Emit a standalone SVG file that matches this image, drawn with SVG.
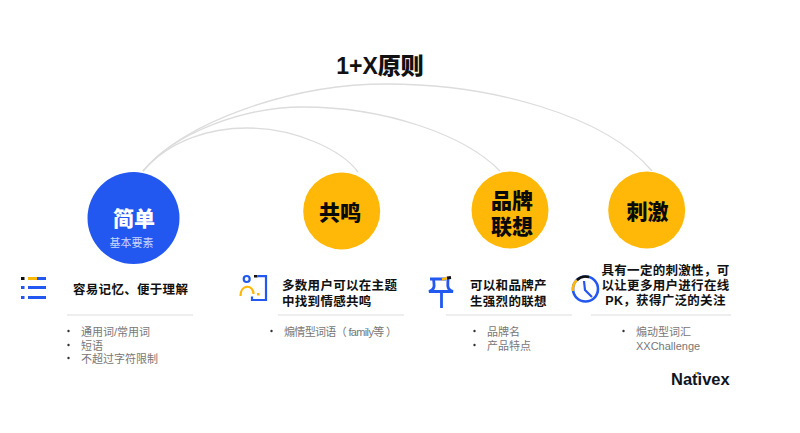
<svg xmlns="http://www.w3.org/2000/svg" width="800" height="433" viewBox="0 0 800 433">
<style>
text{font-family:"Liberation Sans","Noto Sans CJK SC",sans-serif}
.arc{fill:none;stroke:#dcdcdc;stroke-width:1.3}
.rule{stroke:#dedede;stroke-width:1.2}
.head{font-size:21px;font-weight:900;fill:#0a0a0a;text-anchor:middle}
.sub{font-size:12.5px;font-weight:700;fill:#111;letter-spacing:.3px}
.li{font-size:11px;fill:#777}
.dot{fill:#333}
.b{fill:none;stroke:#2257f0;stroke-width:2.2}
.y{fill:none;stroke:#ffb808;stroke-width:2.2}
</style>
<rect width="800" height="433" fill="#fff"/>
<g id="connectors">
<path class="arc" d="M143 171C170 140 210 128 247 128C295 128 342 150 358 172"/>
<path class="arc" d="M143 171C175 132 245 107 303 107C385 107 465 135 500 171"/>
<path class="arc" d="M143 171C185 122 290 84 387 84C490 84 605 115 652 171"/>
</g>
<text x="380" y="74" font-size="23" font-weight="900" fill="#111" text-anchor="middle">1+X原则</text>
<g id="node-jiandan">
<circle cx="133.500" cy="218" r="46" fill="#2257f0"/>
<text class="head" x="134" y="226" style="fill:#fff">简单</text>
<text x="131.500" y="247" font-size="11" fill="#c9d6ff" text-anchor="middle">基本要素</text>
<g id="icon-list">
<rect x="21" y="277" width="3.500" height="3" fill="#111"/><rect x="28" y="277" width="9" height="3" fill="#ffb808"/><rect x="37" y="277" width="9" height="3" fill="#2257f0"/>
<rect x="21" y="286" width="3.500" height="3" fill="#2257f0"/><rect x="28" y="286" width="18" height="3" fill="#2257f0"/>
<rect x="21" y="296" width="3.500" height="3" fill="#2257f0"/><rect x="28" y="296" width="18" height="3" fill="#2257f0"/>
</g>
<text class="sub" x="73" y="294">容易记忆、便于理解</text>
<line class="rule" x1="67" y1="315" x2="193" y2="315"/>
<circle class="dot" cx="68.500" cy="331" r="1.200"/><circle class="dot" cx="68.500" cy="345" r="1.200"/><circle class="dot" cx="68.500" cy="358" r="1.200"/>
<text class="li" x="81" y="336">通用词/常用词</text>
<text class="li" x="81" y="349.500">短语</text>
<text class="li" x="81" y="363">不超过字符限制</text>
</g>
<g id="node-gongming">
<circle cx="341.700" cy="211" r="38.500" fill="#ffb808"/>
<text class="head" x="340" y="219.500">共鸣</text>
<g id="icon-person">
<circle class="b" cx="246.700" cy="279" r="3"/>
<path class="y" d="M240.500 296C240.500 284 253.500 284 253.500 294"/>
<rect x="254" y="275" width="3.500" height="2.500" fill="#111"/>
<path class="b" d="M257.500 276.200H266V300H252V296.500"/>
<rect x="257" y="293" width="2.500" height="2.500" fill="#ffb808"/>
</g>
<text class="sub" x="282" y="289.500">多数用户可以在主题</text>
<text class="sub" x="282" y="305.500">中找到情感共鸣</text>
<line class="rule" x1="278" y1="315" x2="404" y2="315"/>
<circle class="dot" cx="271.500" cy="331" r="1.200"/>
<text class="li" x="284" y="336" textLength="113">煽情型词语（ family等 ）</text>
</g>
<g id="node-pinpai">
<circle cx="510" cy="210" r="38.500" fill="#ffb808"/>
<text class="head" x="512" y="207.500">品牌</text>
<text class="head" x="512" y="233.500">联想</text>
<g id="icon-pin">
<path class="b" d="M430 279H446M433.500 279C434 285 436 289 429 291.500H453C446 289 448 285 448 279M441.500 291V308" style="stroke-width:2.800"/>
<path d="M442 279.500L447 278" stroke="#ffb808" stroke-width="2.800" fill="none"/>
<path d="M447 278L451 277.500" stroke="#111" stroke-width="2.800" fill="none"/>
</g>
<text class="sub" x="470" y="289.500">可以和品牌产</text>
<text class="sub" x="470" y="305.500">生强烈的联想</text>
<line class="rule" x1="446" y1="315" x2="572" y2="315"/>
<circle class="dot" cx="474.500" cy="331" r="1.200"/><circle class="dot" cx="474.500" cy="345" r="1.200"/>
<text class="li" x="487" y="336">品牌名</text>
<text class="li" x="487" y="349.500">产品特点</text>
</g>
<g id="node-ciji">
<circle cx="646.700" cy="210" r="38.500" fill="#ffb808"/>
<text class="head" x="647.500" y="219">刺激</text>
<g id="icon-clock">
<circle class="b" cx="585.500" cy="289" r="12.500" style="stroke-width:2.600"/>
<path d="M573 291A12.500 12.500 0 0 1 577 280" fill="none" stroke="#ffb808" stroke-width="2.600"/>
<path d="M577 280A12.500 12.500 0 0 1 589 277" fill="none" stroke="#111" stroke-width="2.600"/>
<path class="b" d="M584 281L585 290L592 297"/>
</g>
<text class="sub" x="665.500" y="274.500" text-anchor="middle">具有一定的刺激性，可</text>
<text class="sub" x="665.500" y="289.500" text-anchor="middle">以让更多用户进行在线</text>
<text class="sub" x="665.500" y="305" text-anchor="middle">PK，获得广泛的关注</text>
<line class="rule" x1="591" y1="315" x2="731" y2="315"/>
<circle class="dot" cx="623.500" cy="331" r="1.200"/>
<text class="li" x="636" y="336">煽动型词汇</text>
<text class="li" x="636" y="349.500">XXChallenge</text>
</g>
<g id="logo">
<text x="671" y="384.500" font-size="16.500" font-weight="700" fill="#10151f">Nativex</text>
<rect x="695" y="372" width="2.200" height="2.200" fill="#ffb808"/><rect x="697.200" y="372" width="2.200" height="2.200" fill="#2257f0"/>
</g>
</svg>
